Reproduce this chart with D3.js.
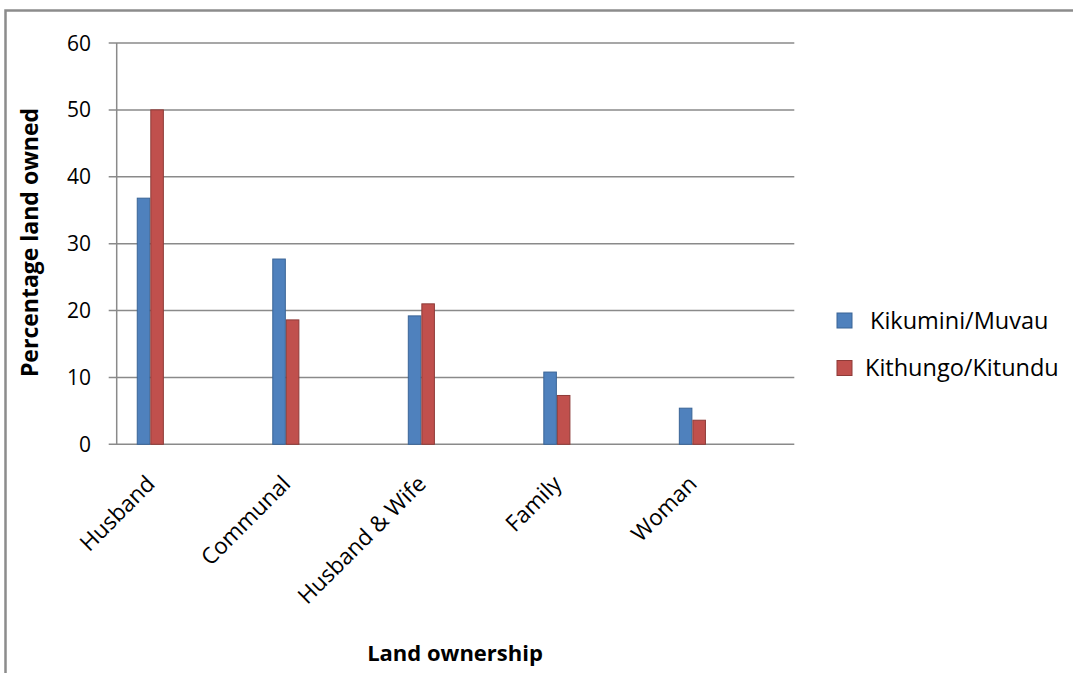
<!DOCTYPE html>
<html><head><meta charset="utf-8">
<script src="https://cdn.jsdelivr.net/npm/d3@7"></script>
<style>body{margin:0;background:#fff}svg{display:block}</style>
</head><body>
<script>
const categories = ["Husband", "Communal", "Husband & Wife", "Family", "Woman"];
const seriesNames = ["Kikumini/Muvau", "Kithungo/Kitundu"];
const kikumini = [36.8, 27.7, 19.2, 10.8, 5.4];
const kithungo = [50, 18.6, 21.0, 7.3, 3.6];
const yTicks = [0, 10, 20, 30, 40, 50, 60];
const colors = ["#4F81BD", "#C0504D"];
const strokes = ["#3A6496", "#8E3B38"];

const W = 1073, H = 673;
const font = "'Open Sans', Lato, sans-serif";
const svg = d3.select("body").append("svg").attr("width", W).attr("height", H);

// outer frame
svg.append("path").attr("d", `M5.5,${H} V10.5 H${W}`).attr("fill","none").attr("stroke","#8c8c8c").attr("stroke-width",2.5);

const m = {l:116.7, r:794.3, t:43, b:444.3};
const x = d3.scaleBand().domain(categories).range([m.l, m.r]);
const y = d3.scaleLinear().domain([0, 60]).range([m.b, m.t]);
const groupW = x.bandwidth() / 5;
const groupOffset = x.bandwidth() * 0.248; // group centre within each category slot
const xs = d3.scaleBand().domain([0,1]).range([0, groupW]);
const cx = d => x(d) + groupOffset;

// gridlines
svg.append("g").selectAll("line").data(yTicks).join("line")
  .attr("x1", m.l - 8).attr("x2", m.r)
  .attr("y1", d => y(d)).attr("y2", d => y(d))
  .attr("stroke", "#8a8a8a").attr("stroke-width", 1.5);
// y axis line
svg.append("line").attr("x1", m.l).attr("x2", m.l).attr("y1", m.t).attr("y2", m.b)
  .attr("stroke", "#8a8a8a").attr("stroke-width", 1.5);
// y tick labels
svg.append("g").selectAll("text").data(yTicks).join("text")
  .attr("x", 91).attr("y", d => y(d)).attr("dy", "0.36em")
  .attr("text-anchor", "end").attr("font-family", font).attr("font-size", 21)
  .attr("fill", "#000").text(d => d);

// bars
const series = [kikumini, kithungo];
series.forEach((vals, si) => {
  svg.append("g").selectAll("rect").data(categories).join("rect")
    .attr("x", d => cx(d) - groupW/2 + xs(si) + 0.5)
    .attr("y", (d, i) => y(vals[i]))
    .attr("width", xs.bandwidth() - 1)
    .attr("height", (d, i) => y(0) - y(vals[i]))
    .attr("fill", colors[si]).attr("stroke", strokes[si]).attr("stroke-width", 1);
});

// x labels
svg.append("g").selectAll("text").data(categories).join("text")
  .attr("transform", d => `translate(${cx(d) + 6},${m.b + 41}) rotate(-45)`)
  .attr("text-anchor", "end").attr("font-family", font).attr("font-size", 22.5)
  .attr("fill", "#000").text(d => d);

// axis titles
svg.append("text").attr("transform", `translate(38,242.5) rotate(-90)`)
  .attr("text-anchor", "middle").attr("font-family", font).attr("font-size", 23)
  .attr("font-weight", "bold").text("Percentage land owned");
svg.append("text").attr("x", 455).attr("y", 661)
  .attr("text-anchor", "middle").attr("font-family", font).attr("font-size", 22)
  .attr("font-weight", "bold").text("Land ownership");

// legend
const lg = svg.append("g");
const ly = [320.5, 368];
seriesNames.forEach((n, i) => {
  lg.append("rect").attr("x", 837).attr("y", ly[i] - 7.5).attr("width", 15).attr("height", 15)
    .attr("fill", colors[i]).attr("stroke", strokes[i]);
  lg.append("text").attr("x", i === 0 ? 870 : 865).attr("y", ly[i]).attr("dy", "0.35em")
    .attr("font-family", font).attr("font-size", 23.5).text(n);
});
</script>
</body></html>
